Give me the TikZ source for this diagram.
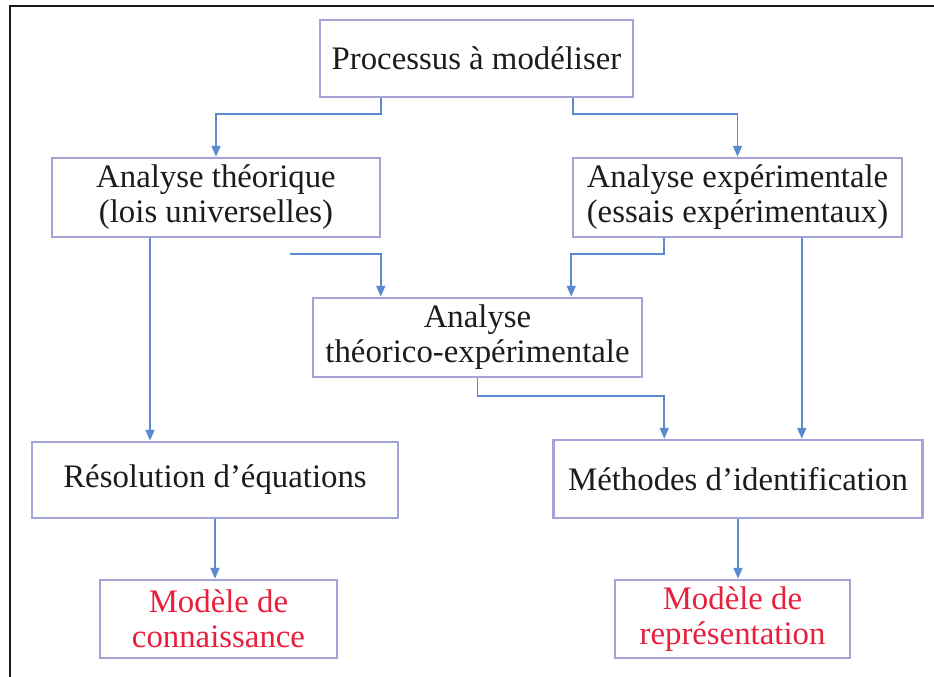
\documentclass[tikz,border=0pt]{standalone}
\usepackage{fontspec}
\setmainfont{Liberation Serif}
\usetikzlibrary{arrows.meta}
\definecolor{boxline}{HTML}{A4A4D8}
\definecolor{linkblue}{HTML}{5A8AD0}
\definecolor{inktext}{HTML}{1C1C1C}
\definecolor{modelred}{HTML}{E8203C}
\tikzset{
  stepbox/.style={draw=boxline, line width=2.5pt, fill=white, inner sep=0pt,
    align=center, text=inktext, font=\fontsize{32.8}{35}\selectfont},
  modelbox/.style={stepbox, text=modelred},
  link/.style={draw=linkblue, line width=1.8pt,
    -{Triangle[length=11pt,width=9pt]}},
  frameline/.style={draw=black!90, line width=2pt},
}
\begin{document}
\begin{tikzpicture}[x=1pt,y=-1pt]
\useasboundingbox (0,0) rectangle (934,677);
\fill[white] (0,0) rectangle (934,677);
% open frame: top and left edges
\draw[frameline] (10,677) -- (10,6) -- (934,6);

% boxes
\node[stepbox, minimum width=313pt, minimum height=77pt] (proc) at (476.5,58.5) {Processus à modéliser};
\node[stepbox, minimum width=328pt, minimum height=79pt] (theo) at (216,197.5) {Analyse théorique\\(lois universelles)};
\node[stepbox, minimum width=329pt, minimum height=79pt] (expe) at (737.5,197.5) {Analyse expérimentale\\(essais expérimentaux)};
\node[stepbox, minimum width=329pt, minimum height=79pt] (mix) at (477.5,337.5) {Analyse\\théorico-expérimentale};
\node[stepbox, minimum width=366pt, minimum height=76pt] (reso) at (215,480) {Résolution d’équations};
\node[stepbox, minimum width=369pt, minimum height=78pt] (meth) at (738,479) {Méthodes d’identification};
\node[modelbox, minimum width=237pt, minimum height=78pt] (mcon) at (218.5,619) {Modèle de\\connaissance};
\node[modelbox, minimum width=235pt, minimum height=78pt] (mrep) at (732.5,619) {Modèle de\\représentation};

% connector anchors
\coordinate (pl) at ([xshift=62pt]proc.south west);
\coordinate (pr) at ([xshift=-61pt]proc.south east);
\coordinate (tl) at ([xshift=-66pt]theo.south);
\coordinate (tm) at ([xshift=74pt,yshift=-16pt]theo.south);
\coordinate (ml) at ([xshift=69pt]mix.north west);
\coordinate (el) at ([xshift=92pt]expe.south west);
\coordinate (mr) at ([xshift=-72pt]mix.north east);
\coordinate (er) at ([xshift=230pt]expe.south west);
\coordinate (mi) at ([xshift=112pt]meth.north west);

% connectors
\draw[link] (pl) -- ++(0,16) -| (theo.north);
\draw[link] (pr) -- ++(0,16) -| (expe.north);
\draw[link] (tl) -- (tl |- reso.north);
\draw[link] (tm) -| (ml);
\draw[link] (el) -- ++(0,16) -| (mr);
\draw[link] (er) -- (er |- meth.north);
\draw[link] (mix.south) -- ++(0,18) -| (mi);
\draw[link] (reso.south) -- (reso.south |- mcon.north);
\draw[link] (meth.south) -- (meth.south |- mrep.north);
\end{tikzpicture}
\end{document}
